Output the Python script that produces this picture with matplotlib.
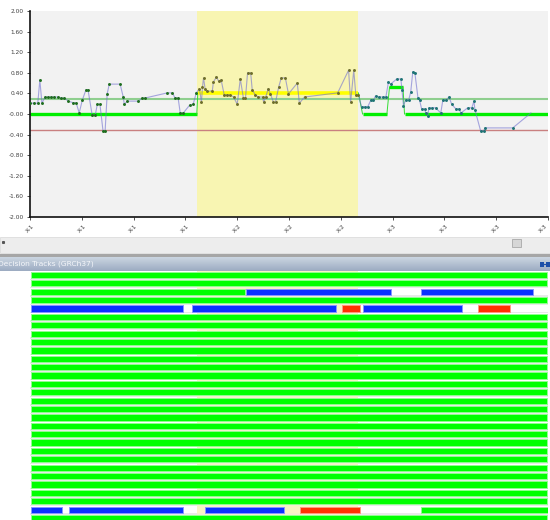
import matplotlib
matplotlib.use("Agg")
import matplotlib.pyplot as plt
import numpy as np
from matplotlib.patches import Rectangle

# ---- score trace ----
pos = [0.0, 0.8, 1.5, 1.9, 2.3, 2.9, 3.5, 4.1, 4.6, 5.4, 6.0, 6.6, 7.4, 8.3, 8.9,
       9.5, 10.1, 10.8, 11.2, 12.0, 12.6, 13.0, 13.5, 14.1, 14.5, 14.9, 15.3, 17.4,
       18.0, 18.2, 18.8, 20.9, 21.7, 22.2, 26.5, 27.5, 28.0, 28.6, 29.0, 29.6, 30.8,
       31.5, 32.1,
       32.7, 33.1, 33.3, 33.5, 33.8, 34.2, 35.2, 35.4, 36.0, 36.4, 36.9, 37.5, 38.1,
       38.7, 39.3, 40.0, 40.6, 41.2, 41.6, 42.0, 42.6, 42.9, 43.5, 44.1, 44.9, 45.1,
       45.5, 46.0, 46.4, 47.0, 47.4, 48.0, 48.5, 49.3, 49.9, 51.6, 52.0, 53.0, 59.4,
       61.5, 61.9, 62.5, 62.9, 63.4,
       64.0, 64.6, 65.2, 65.8, 66.3, 66.7, 67.3, 68.1, 68.7, 69.2, 69.6, 70.8, 71.6,
       71.8, 72.1, 72.5, 73.1, 73.5, 73.9, 74.3, 74.9, 75.2, 75.6, 76.2, 76.4, 76.8,
       77.0, 77.6, 78.3, 79.3, 79.7, 80.3, 80.9, 81.4, 82.2, 82.8, 83.2, 84.5, 85.3,
       85.7, 85.9, 87.0, 87.6, 87.8, 93.2, 96.7]
score = [0.21, 0.21, 0.21, 0.66, 0.21, 0.33, 0.33, 0.33, 0.33, 0.33, 0.31, 0.31, 0.25,
         0.22, 0.22, 0.02, 0.27, 0.47, 0.47, -0.02, -0.02, 0.19, 0.19, -0.33, -0.33,
         0.39, 0.58, 0.58, 0.33, 0.19, 0.25, 0.25, 0.31, 0.31, 0.41, 0.41, 0.31, 0.31,
         0.02, 0.02, 0.17, 0.19, 0.41,
         0.49, 0.23, 0.53, 0.70, 0.49, 0.44, 0.45, 0.62, 0.72, 0.64, 0.66, 0.37, 0.37,
         0.37, 0.33, 0.19, 0.68, 0.31, 0.31, 0.80, 0.80, 0.47, 0.37, 0.33, 0.33, 0.23,
         0.33, 0.49, 0.39, 0.23, 0.23, 0.52, 0.70, 0.70, 0.39, 0.60, 0.21, 0.33, 0.41,
         0.85, 0.23, 0.85, 0.37, 0.37,
         0.14, 0.14, 0.14, 0.27, 0.27, 0.35, 0.33, 0.33, 0.33, 0.62, 0.58, 0.68, 0.68,
         0.47, 0.16, 0.27, 0.27, 0.43, 0.82, 0.80, 0.31, 0.27, 0.10, 0.10, 0.02, -0.03,
         0.12, 0.12, 0.12, 0.02, 0.27, 0.27, 0.33, 0.19, 0.10, 0.10, 0.02, 0.12, 0.12,
         0.25, 0.08, -0.33, -0.33, -0.27, -0.27, 0.02]

# selected region and reference levels
span_lo, span_hi = 32.3, 63.4
upper_ref = 0.29
lower_ref = -0.31
# called segments: (start, end, level)
calls = [(0.0, 32.2, 0.0), (32.4, 63.4, 0.41), (64.2, 68.9, 0.0),
         (69.4, 72.0, 0.52), (72.3, 100.0, 0.0)]

yticks = [2.0, 1.6, 1.2, 0.8, 0.4, 0.0, -0.4, -0.8, -1.2, -1.6, -2.0]
ytick_labels = ["2.00", "1.60", "1.20", "0.80", "0.40", "-0.00", "-0.40",
                "-0.80", "-1.20", "-1.60", "-2.00"]
xticks = [0, 10, 20, 30, 40, 50, 60, 70, 80, 90, 100]
xtick_labels = ["X-1", "X-1", "X-1", "X-1", "X-2", "X-2", "X-2",
                "X-3", "X-3", "X-3", "X-3"]

# ---- decision tracks ----
n_tracks = 30
GREEN, BLUE, RED = "#00ff00", "#0a32ff", "#ff3200"
track_segments = {
    2: [(0.1, 41.5, GREEN), (41.7, 69.6, BLUE), (75.4, 97.2, BLUE)],
    4: [(0.1, 29.5, BLUE), (31.3, 59.0, BLUE), (60.3, 63.8, RED),
        (64.2, 83.4, BLUE), (86.5, 92.6, RED)],
    28: [(0.1, 6.2, BLUE), (7.5, 29.5, BLUE), (33.8, 49.1, BLUE),
         (52.2, 63.8, RED), (75.4, 100.0, GREEN)],
}

W, H = 550, 520
fig = plt.figure(figsize=(W / 100, H / 100), dpi=100)
fig.patch.set_facecolor("white")


def box(x0, y0, x1, y1):
    return [x0 / W, 1 - y1 / H, (x1 - x0) / W, (y1 - y0) / H]


# window chrome (scroll bar, track header)
ui = fig.add_axes([0, 0, 1, 1], zorder=0)
ui.set_xlim(0, W)
ui.set_ylim(H, 0)
ui.axis("off")
ui.add_patch(Rectangle((0, 237), W, 16, facecolor="#ededed", edgecolor="#dddddd", lw=0.6))
ui.add_patch(Rectangle((512, 239), 9, 8, facecolor="#d6d6d6", edgecolor="#a8a8a8", lw=0.6))
ui.plot([3], [242], marker="s", ms=1.2, color="#555555")
ui.add_patch(Rectangle((0, 254), W, 3, facecolor="#a6a6a6", edgecolor="none"))
grad = np.linspace(0, 1, 32).reshape(-1, 1)
ui.imshow(grad, extent=(0, W, 271, 257), aspect="auto",
          cmap=matplotlib.colors.LinearSegmentedColormap.from_list("hdr", ["#cbd5e1", "#9cacc2"]))
ui.set_xlim(0, W)
ui.set_ylim(H, 0)
ui.text(-1.5, 264, "Decision Tracks (GRCh37)", fontsize=5.4, color="#f4f6fa",
        va="center", ha="left")
ui.add_patch(Rectangle((540, 261.5), 3.5, 5, facecolor="#1d4fa8", edgecolor="none"))
ui.add_patch(Rectangle((546, 261.5), 3.5, 5, facecolor="#1d4fa8", edgecolor="none"))
ui.plot([543.5, 546], [264, 264], color="#1d4fa8", lw=0.8)

# ---- score plot ----
ax = fig.add_axes(box(30, 11, 548, 217), zorder=2)
ax.set_facecolor("#f2f2f2")
ax.set_xlim(0, 100)
ax.set_ylim(-2.0, 2.0)
ax.axvspan(span_lo, span_hi, color="#f8f5b2", lw=0, zorder=0)
ax.axhline(upper_ref, color="#8fcf8f", lw=1.5, zorder=1)
ax.axhline(lower_ref, color="#c98080", lw=1.0, zorder=1)

for i, (x0, x1, lv) in enumerate(calls):
    inside = x0 >= span_lo and x1 <= span_hi
    ax.plot([x0, x1], [lv, lv], color="#ffff00" if inside else "#00ee00",
            lw=2.6 if inside else 2.4, solid_capstyle="butt", zorder=2)
    if i + 1 < len(calls):
        nx0, _, nlv = calls[i + 1]
        ax.plot([x1, nx0], [lv, nlv], color="#33dd33", lw=0.7, zorder=2)

pos_a = np.array(pos)
score_a = np.array(score)
ax.plot(pos_a, score_a, color="#7070d0", alpha=0.6, lw=0.8, zorder=3)
left = pos_a < span_lo
mid = (pos_a >= span_lo) & (pos_a <= span_hi)
right = (pos_a > span_hi) & (pos_a < 95)
ax.scatter(pos_a[left], score_a[left], s=4.5, color="#1e6e1e", lw=0, zorder=4)
ax.scatter(pos_a[mid], score_a[mid], s=4.5, color="#6e6e2a", lw=0, zorder=4)
ax.scatter(pos_a[right], score_a[right], s=4.5, color="#1e7474", lw=0, zorder=4)

ax.set_yticks(yticks)
ax.set_yticklabels(ytick_labels, fontsize=4.2, color="#404040")
ax.set_xticks(xticks)
ax.set_xticklabels(xtick_labels, fontsize=4.2, color="#404040", rotation=45,
                   ha="center", va="top")
ax.get_xticklabels()[-1].set_ha("right")
ax.tick_params(axis="both", length=2, width=0.6, color="#333333", pad=2.5)
for s in ("top", "right"):
    ax.spines[s].set_visible(False)
for s in ("left", "bottom"):
    ax.spines[s].set_linewidth(1.2)
    ax.spines[s].set_color("#111111")

# ---- track rows ----
pitch = 8.38
top_px, bot_px = 271, 520
off = 4 / pitch
tk = fig.add_axes(box(30, top_px, 548, bot_px), zorder=1)
tk.set_xlim(0, 100)
tk.set_ylim((bot_px - top_px) / pitch - off, -off)
tk.set_facecolor("#e9e9e9")
tk.axis("off")
tk.add_patch(Rectangle((0, -off), 100, (bot_px - top_px) / pitch,
                       facecolor="#e9e9e9", edgecolor="none", zorder=0))
tk.axvspan(span_lo, span_hi, color="#f3efcf", lw=0, zorder=0.5)

rows = np.arange(n_tracks)
bar_h = 0.74
tk.barh(rows, 100, left=0, height=bar_h + 0.1, color="white", lw=0, zorder=1)
tk.barh(rows, span_hi - span_lo, left=span_lo, height=bar_h + 0.1,
        color="#f8f4c4", lw=0, zorder=1.5)
edge = {GREEN: "#90ff90", BLUE: "#8898ff", RED: "#ff9a80"}
for r in rows:
    segs = track_segments.get(r, [(0.1, 99.9, GREEN)])
    for x0, x1, c in segs:
        tk.barh(r, x1 - x0, left=x0, height=bar_h, color=c, edgecolor=edge[c],
                lw=0.7, zorder=2)

fig.savefig("out.png", dpi=100)
